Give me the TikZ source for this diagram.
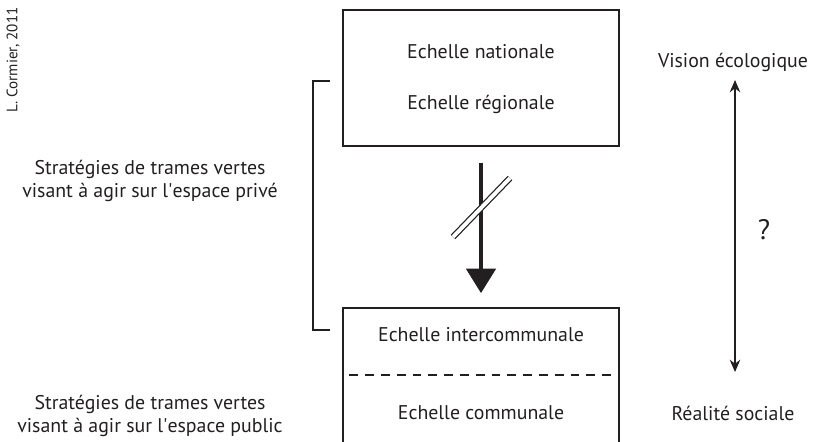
\documentclass[tikz,border=0pt]{standalone}
\usepackage{fontspec}
\setmainfont{PT Sans}
\usetikzlibrary{arrows.meta}
\definecolor{ink}{HTML}{231F20}
\tikzset{
    label/.style={text=ink,font=\fontsize{11.3}{13.3}\selectfont,align=center,inner sep=0pt},
    scalebox/.style={draw=ink,line width=0.85pt,minimum width=5.52cm,inner sep=0pt}
}
\begin{document}
\begin{tikzpicture}[x=0.02cm,y=-0.02cm]
        \useasboundingbox (0,0) rectangle (815,441);
        \clip (0,0) rectangle (815,441);
        %% Credit
        \node[label,font=\fontsize{8.6}{10}\selectfont,rotate=90] (credit) at (13,60) {L. Cormier, 2011};
        %% Upper box
        \node[scalebox,minimum height=2.72cm] (upbox) at (481,78) {};
        \node[label] (national) at (481,52) {Echelle nationale};
        \node[label] (regional) at (481,104) {Echelle régionale};
        %% Lower box (runs past the bottom edge)
        \node[scalebox,minimum height=3.2cm] (lowbox) at (481,388) {};
        \node[label] (intercom) at (481,335) {Echelle intercommunale};
        \node[label] (communal) at (481,413) {Echelle communale};
        \draw[ink,line width=0.85pt,dash pattern=on 5pt off 4pt]
            (lowbox.west |- 0,375) ++(7,0) -- (lowbox.east |- 0,375);
        %% Downward arrow, crossed out
        \draw[ink,line width=2.8pt,-{Triangle[width=16.5pt,length=14pt]},
            shorten <=9,shorten >=8] (upbox.south) -- (lowbox.north);
        \coordinate (cut) at (481,207);
        \draw[ink,double=white,double distance=2.2pt,line width=0.7pt]
            (cut) ++(-28,30) -- ++(57,-59);
        %% Bracket
        \coordinate (brtop) at (330,81);
        \coordinate (brbot) at (330,330);
        \draw[ink,line width=0.85pt] (brtop) -- ++(-17,0) |- (brbot);
        %% Strategies
        \node[label] (private) at (150,181) {Stratégies de trames vertes\\visant à agir sur l\textquotesingle espace privé};
        \node[label] (public) at (150,416) {Stratégies de trames vertes\\visant à agir sur l\textquotesingle espace public};
        %% Right side
        \node[label] (vision) at (733,62) {Vision écologique};
        \node[label] (reality) at (733,413) {Réalité sociale};
        \coordinate (vtop) at (735,80);
        \coordinate (vbot) at (735,372);
        \draw[ink,line width=0.6pt,{Stealth[length=7pt,width=6pt]}-{Stealth[length=7pt,width=6pt]}]
            (vtop) -- (vbot);
        \node[label,font=\fontsize{16}{18}\selectfont] (query) at (764,230) {?};
\end{tikzpicture}
\end{document}
